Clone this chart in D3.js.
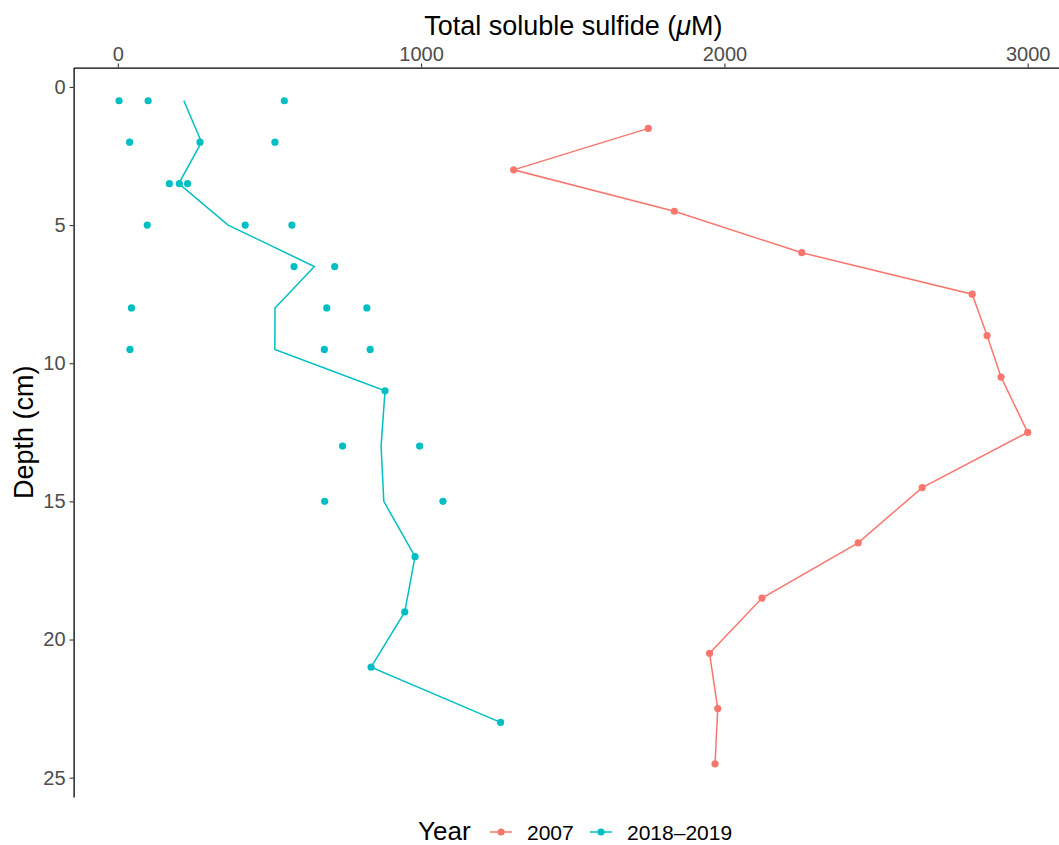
<!DOCTYPE html>
<html>
<head>
<meta charset="utf-8">
<script src="https://cdn.jsdelivr.net/npm/d3@7"></script>
<style>
  html, body { margin: 0; padding: 0; background: #fff; overflow: hidden; }
  svg { display: block; font-family: "Liberation Sans", Arial, sans-serif; }
</style>
</head>
<body>
<svg id="chart" width="1059" height="845"></svg>
<script>
// ---- Data ----
const years = ["2007", "2018\u20132019"];
const colors = ["#F8766D", "#00BFC4"];

const depth2007 = [1.5, 3, 4.5, 6, 7.5, 9, 10.5, 12.5, 14.5, 16.5, 18.5, 20.5, 22.5, 24.5];
const sulfide2007 = [1749, 1305, 1835, 2255, 2817, 2866, 2912, 3000, 2652, 2441, 2124, 1951, 1978, 1969];

const depth2018 = [0.5, 0.5, 0.5, 2, 2, 2, 3.5, 3.5, 3.5, 5, 5, 5, 6.5, 6.5, 8, 8, 8,
                   9.5, 9.5, 9.5, 11, 13, 13, 15, 15, 17, 19, 21, 23];
const sulfide2018 = [4, 100, 549, 39, 271, 518, 170, 203, 230, 97, 420, 574, 581, 715, 45, 689, 821,
                     40, 681, 832, 881, 741, 995, 682, 1072, 980, 946, 835, 1262];

const xTicks = [0, 1000, 2000, 3000];
const yTicks = [0, 5, 10, 15, 20, 25];

// ---- Layout ----
const svg = d3.select("#chart");
const panelLeft = 73.6, panelTop = 67.6, panelBottom = 797;

const pts2007 = depth2007.map((d, i) => ({ depth: d, value: sulfide2007[i] }));
const pts2018 = depth2018.map((d, i) => ({ depth: d, value: sulfide2018[i] }));
const allPts = pts2007.concat(pts2018);

const xExt = d3.extent(allPts, d => d.value);
const xPad = (xExt[1] - xExt[0]) * 0.05;
const yExt = d3.extent(allPts, d => d.depth);
const yPad = (yExt[1] - yExt[0]) * 0.05;

const xDomain = [xExt[0] - xPad, xExt[1] + xPad];
const pxPerUnit = 0.30330;
const x = d3.scaleLinear().domain(xDomain)
  .range([panelLeft, panelLeft + (xDomain[1] - xDomain[0]) * pxPerUnit]);
const y = d3.scaleLinear().domain([yExt[0] - yPad, yExt[1] + yPad]).range([panelTop, panelBottom]);

// ---- Axes ----
const xAxis = d3.axisTop(x).tickValues(xTicks).tickFormat(d3.format("d"))
  .tickSize(4).tickSizeOuter(0).tickPadding(3);
const gx = svg.append("g").attr("transform", `translate(0,${panelTop})`).call(xAxis);
gx.select(".domain").attr("stroke", "#000").attr("stroke-width", 1.3);
gx.selectAll(".tick line").attr("stroke", "#333").attr("stroke-width", 1.1);
gx.selectAll(".tick text").attr("fill", "#4D4D4D").style("font-size", "20px")
  .style("font-family", "'Liberation Sans', Arial, sans-serif");

const yAxis = d3.axisLeft(y).tickValues(yTicks).tickFormat(d3.format("d"))
  .tickSize(4).tickSizeOuter(0).tickPadding(4);
const gy = svg.append("g").attr("transform", `translate(${panelLeft},0)`).call(yAxis);
gy.select(".domain").attr("stroke", "#000").attr("stroke-width", 1.3);
gy.selectAll(".tick line").attr("stroke", "#333").attr("stroke-width", 1.1);
gy.selectAll(".tick text").attr("fill", "#4D4D4D").style("font-size", "20px")
  .style("font-family", "'Liberation Sans', Arial, sans-serif");

// ---- Titles ----
const xt = svg.append("text").attr("x", (x.range()[0] + x.range()[1]) / 2).attr("y", 35)
  .attr("text-anchor", "middle").style("font-size", "27px").attr("fill", "#000");
xt.append("tspan").text("Total soluble sulfide (");
xt.append("tspan").style("font-style", "italic").text("\u03BC");
xt.append("tspan").text("M)");

svg.append("text").attr("transform", `translate(33,${(panelTop + panelBottom) / 2}) rotate(-90)`)
  .attr("text-anchor", "middle").style("font-size", "27px").attr("fill", "#000")
  .text("Depth (cm)");

// ---- Marks ----
const line = d3.line().x(d => x(d.value)).y(d => y(d.depth));

// 2018–2019 mean line
const means = Array.from(d3.rollup(pts2018, v => d3.mean(v, d => d.value), d => d.depth),
  ([depth, value]) => ({ depth, value })).sort((a, b) => a.depth - b.depth);

svg.append("path").datum(pts2007.slice().sort((a, b) => a.depth - b.depth))
  .attr("d", line).attr("fill", "none").attr("stroke", colors[0]).attr("stroke-width", 1.5);
svg.append("g").selectAll("circle").data(pts2007).join("circle")
  .attr("cx", d => x(d.value)).attr("cy", d => y(d.depth)).attr("r", 3.6).attr("fill", colors[0]);

svg.append("path").datum(means)
  .attr("d", line).attr("fill", "none").attr("stroke", colors[1]).attr("stroke-width", 1.5);
svg.append("g").selectAll("circle").data(pts2018).join("circle")
  .attr("cx", d => x(d.value)).attr("cy", d => y(d.depth)).attr("r", 3.6).attr("fill", colors[1]);

// ---- Legend ----
const legY = 840;
const lg = svg.append("g");
lg.append("text").attr("x", 418).attr("y", legY).style("font-size", "26px").attr("fill", "#000").text("Year");
const keyX = [490, 590];
const labX = [527, 627];
years.forEach((yr, i) => {
  lg.append("line").attr("x1", keyX[i]).attr("x2", keyX[i] + 22).attr("y1", legY - 8).attr("y2", legY - 8)
    .attr("stroke", colors[i]).attr("stroke-width", 1.5);
  lg.append("circle").attr("cx", keyX[i] + 11).attr("cy", legY - 8).attr("r", 3.6).attr("fill", colors[i]);
  lg.append("text").attr("x", labX[i]).attr("y", legY).style("font-size", "21px").attr("fill", "#000").text(yr);
});
</script>
</body>
</html>
